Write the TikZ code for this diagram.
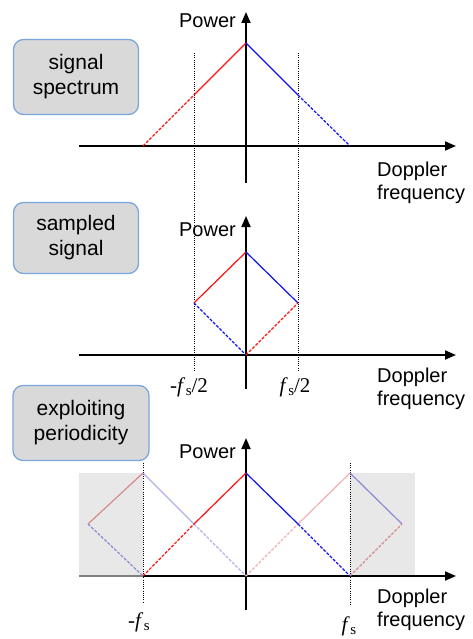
\documentclass[tikz,border=0pt]{standalone}
\usepackage{fontspec}
\setmainfont{Liberation Sans}
\newfontfamily\tnr{Liberation Serif}
\usetikzlibrary{arrows.meta}
\definecolor{boxgray}{HTML}{D9D9D9}
\definecolor{boxblue}{HTML}{7AA6DC}
\definecolor{bggray}{HTML}{E8E8E8}
\definecolor{fred}{HTML}{F2B0B0}
\definecolor{fblue}{HTML}{B0B0EC}
\definecolor{gred}{HTML}{D88A8A}
\definecolor{gblue}{HTML}{8A8AD8}
\definecolor{sred}{HTML}{FF1010}
\definecolor{sblue}{HTML}{1010F0}
\tikzset{
  axis/.style={line width=1.8pt,-{Triangle[length=11pt,width=9pt]}},
  lbl/.style={font=\fontsize{20}{23}\selectfont,align=left,inner sep=0pt},
  boxlbl/.style={draw=boxblue,fill=boxgray,line width=1.3pt,rounded corners=10pt,font=\fontsize{21}{25}\selectfont,align=center},
  spec/.style={line width=1.2pt},
  dsh/.style={spec,dash pattern=on 3pt off 1.5pt},
  vdots/.style={line width=1pt,dash pattern=on 1pt off 1.2pt},
  mlbl/.style={font=\tnr\fontsize{21}{24}\selectfont,inner sep=0pt,anchor=base},
}
\begin{document}
\begin{tikzpicture}[x=1pt,y=-1pt]
\useasboundingbox (0,0) rectangle (473,639);
% boxes
\node[boxlbl,minimum width=125pt,minimum height=75pt] (b1) at (76,77) {signal\\spectrum};
\node[boxlbl,minimum width=125pt,minimum height=71pt] (b2) at (76,238) {sampled\\signal};
\node[boxlbl,minimum width=136pt,minimum height=75pt] (b3) at (81,423) {exploiting\\periodicity};
% common dotted lines fs/2
\coordinate (d1t) at (194,53); \coordinate (d1b) at (194,370);
\coordinate (d2t) at (298,53); \coordinate (d2b) at (298,370);
\draw[vdots] (d1t) -- (d1b);
\draw[vdots] (d2t) -- (d2b);
% ---------- panel 1
\coordinate (x1s) at (79,146); \coordinate (x1e) at (456,146);
\coordinate (y1s) at (246,183); \coordinate (y1e) at (246,12);
\draw[axis] (x1s) -- (x1e);
\draw[axis] (y1s) -- (y1e);
\coordinate (p1a) at (143,146); \coordinate (p1b) at (194,95);
\coordinate (p1c) at (246,43); \coordinate (p1d) at (298,95);
\coordinate (p1e) at (350,146);
\draw[dsh,sred] (p1a) -- (p1b);
\draw[spec,sred] (p1b) -- (p1c);
\draw[spec,sblue] (p1c) -- (p1d);
\draw[dsh,sblue] (p1d) -- (p1e);
\node[lbl,anchor=east] (pw1) at (236,21) {Power};
\node[lbl,anchor=west] (df1) at (377,183) {Doppler\\frequency};
% ---------- panel 2
\coordinate (x2s) at (79,355); \coordinate (x2e) at (456,355);
\coordinate (y2s) at (246,389); \coordinate (y2e) at (246,216);
\draw[axis] (x2s) -- (x2e);
\draw[axis] (y2s) -- (y2e);
\coordinate (q2t) at (246,252); \coordinate (q2l) at (194,303);
\coordinate (q2b) at (246,355); \coordinate (q2r) at (298,303);
\draw[spec,sred] (q2l) -- (q2t);
\draw[spec,sblue] (q2t) -- (q2r);
\draw[dsh,sblue] (q2l) -- (q2b);
\draw[dsh,sred] (q2b) -- (q2r);
\node[lbl,anchor=east] (pw2) at (236,230) {Power};
\node[lbl,anchor=west] (df2) at (377,389) {Doppler\\frequency};
\node[mlbl] (l2a) at (189,392) {-\textit{f}\kern0.5pt\raisebox{-3.5pt}{\fontsize{15}{15}\selectfont s}/2};
\node[mlbl] (l2b) at (295,392) {\textit{f}\kern0.5pt\raisebox{-3.5pt}{\fontsize{15}{15}\selectfont s}/2};
% ---------- panel 3
\fill[bggray] (79,473) rectangle (143,576);
\fill[bggray] (350,473) rectangle (415,576);
\coordinate (x3s) at (79,576); \coordinate (x3m) at (143,576); \coordinate (x3e) at (456,576);
\coordinate (y3s) at (246,610); \coordinate (y3e) at (246,438);
\draw[line width=1.8pt,gray] (x3s) -- (x3m);
\draw[axis] (x3m) -- (x3e);
\draw[axis] (y3s) -- (y3e);
\coordinate (d3at) at (143,463); \coordinate (d3ab) at (143,603);
\coordinate (d3bt) at (350,463); \coordinate (d3bb) at (350,605);
\draw[vdots] (d3at) -- (d3ab);
\draw[vdots] (d3bt) -- (d3bb);
% points
\coordinate (gL) at (88,524);
\coordinate (mLt) at (143,473); \coordinate (mLb) at (143,576);
\coordinate (hL) at (194,524);
\coordinate (c0t) at (246,473); \coordinate (c0b) at (246,576);
\coordinate (hR) at (298,524);
\coordinate (mRt) at (350,473); \coordinate (mRb) at (350,576);
\coordinate (gR) at (402,524);
% faded copies
\draw[spec,gred] (gL) -- (mLt);
\draw[dsh,gblue] (gL) -- (mLb);
\draw[spec,gblue] (mRt) -- (gR);
\draw[dsh,gred] (mRb) -- (gR);
\draw[spec,fblue] (mLt) -- (hL);
\draw[dsh,fblue] (hL) -- (c0b);
\draw[dsh,fred] (c0b) -- (hR);
\draw[spec,fred] (hR) -- (mRt);
% main
\draw[dsh,sred] (mLb) -- (hL);
\draw[spec,sred] (hL) -- (c0t);
\draw[spec,sblue] (c0t) -- (hR);
\draw[dsh,sblue] (hR) -- (mRb);
\node[lbl,anchor=east] (pw3) at (236,452) {Power};
\node[lbl,anchor=west] (df3) at (377,610) {Doppler\\frequency};
\node[mlbl] (l3a) at (139,627) {-\textit{f}\kern0.5pt\raisebox{-3.5pt}{\fontsize{15}{15}\selectfont s}};
\node[mlbl] (l3b) at (349,631) {\textit{f}\kern0.5pt\raisebox{-3.5pt}{\fontsize{15}{15}\selectfont s}};
\end{tikzpicture}
\end{document}
